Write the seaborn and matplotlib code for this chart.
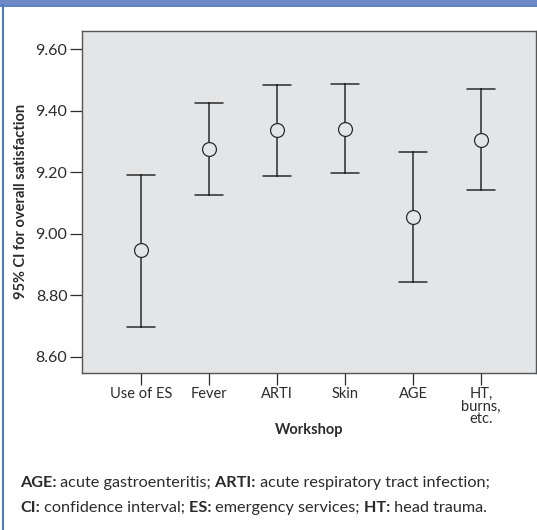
import matplotlib
matplotlib.use('Agg')
import matplotlib.pyplot as plt
import numpy as np
import pandas as pd
import seaborn as sns
from matplotlib.patches import Rectangle
from matplotlib.lines import Line2D

# values (95% CI for overall satisfaction)
workshops = ['Use of ES', 'Fever', 'ARTI', 'Skin', 'AGE', 'HT,\nburns,\netc.']
means = [8.947, 9.276, 9.339, 9.341, 9.056, 9.305]
lower = [8.698, 9.128, 9.188, 9.198, 8.842, 9.143]
upper = [9.193, 9.426, 9.484, 9.487, 9.266, 9.471]
y_ticks = [8.60, 8.80, 9.00, 9.20, 9.40, 9.60]

# long form: median of (lower, mean, upper) is the mean, min-max is the CI
df = pd.DataFrame({
    'workshop': np.repeat(workshops, 3),
    'value': np.ravel(np.column_stack([lower, means, upper])),
})

sns.set_theme(style='white')
plt.rcParams['font.family'] = ['Lato', 'DejaVu Sans']

PLOT_BG = '#E4E5E7'
INK = '#2B2B2B'

fig = plt.figure(figsize=(5.37, 5.30), dpi=100)
fig.patch.set_facecolor('white')
ax = fig.add_axes([82 / 537, 1 - 372.5 / 530, 454 / 537, 341.5 / 530])
ax.set_facecolor(PLOT_BG)

sns.pointplot(data=df, x='workshop', y='value', order=workshops,
              estimator='median', errorbar=('pi', 100),
              linestyle='none', marker='o', markersize=10,
              markerfacecolor=PLOT_BG, markeredgecolor=INK, markeredgewidth=0.9,
              color=INK, capsize=0.41, err_kws={'linewidth': 1.1, 'color': INK},
              ax=ax)

# circles sit on top of the CI lines
for ln in ax.lines:
    if ln.get_marker() == 'o':
        ln.set_zorder(5)

ax.set_xlim(-0.87, 5.81)
ax.set_ylim(8.549, 9.66)
ax.set_yticks(y_ticks)
ax.set_yticklabels([f'{v:.2f}' for v in y_ticks])
ax.tick_params(axis='both', direction='out', length=8.5, width=0.9, color=INK,
               labelsize=11.5, labelcolor=INK, pad=2, left=True, bottom=True)
ax.tick_params(axis='x', labelsize=10.5)
for lab in ax.get_xticklabels():
    lab.set_verticalalignment('top')
    lab.set_linespacing(0.85)

for side, sp in ax.spines.items():
    sp.set_visible(True)
    sp.set_color('#555555')
    sp.set_linewidth(1.0)

ax.set_xlabel('Workshop', fontsize=10.5, fontweight='bold', color=INK, va='center')
ax.xaxis.set_label_coords(0.5, (372.5 - 430) / 341.5)
ax.set_ylabel('95% CI for overall satisfaction', fontsize=10.5, fontweight='bold',
              color=INK, va='center')
ax.yaxis.set_label_coords((21 - 82) / 454, 0.5)

# blue header strip and left border of the figure box
fig.patches.append(Rectangle((0, 1 - 5 / 530), 1, 5 / 530, transform=fig.transFigure,
                             facecolor='#6E89C5', edgecolor='none', zorder=0))
fig.lines.append(Line2D([0, 1], [1 - 5.5 / 530] * 2, transform=fig.transFigure,
                        color='#3E6DB8', linewidth=1.2))
fig.lines.append(Line2D([2.5 / 537] * 2, [0, 1 - 5 / 530], transform=fig.transFigure,
                        color='#4A7CC0', linewidth=1.5))

# footnote with bold abbreviations
renderer = fig.canvas.get_renderer()


def rich_line(x_px, y_px, parts, size):
    x = x_px / 537
    texts = []
    for txt, bold in parts:
        t = fig.text(x, 1 - y_px / 530, txt, fontsize=size, color=INK,
                     fontweight='bold' if bold else 'normal', va='baseline', ha='left')
        x += t.get_window_extent(renderer).width / fig.bbox.width
        texts.append(t)
    return texts, x * 537 - x_px


line1 = [('AGE:', True), (' acute gastroenteritis;', False),
         (' ARTI:', True), (' acute respiratory tract infection;', False)]
line2 = [('CI:', True), (' confidence interval;', False),
         (' ES:', True), (' emergency services;', False),
         (' HT:', True), (' head trauma.', False)]

# size the footnote so that the first line spans the same width as in the reference
probe, w = rich_line(20, 487, line1, 11)
for t in probe:
    t.remove()
size = 11 * 468 / w
rich_line(20, 487, line1, size)
rich_line(20, 512, line2, size)

fig.savefig('out.png', dpi=100)
